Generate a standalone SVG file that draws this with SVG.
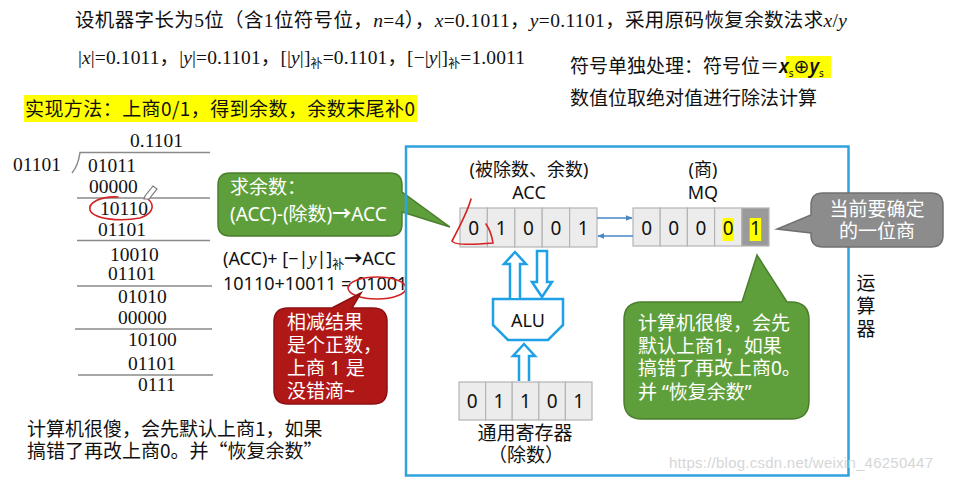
<svg xmlns="http://www.w3.org/2000/svg" width="957" height="482" viewBox="0 0 957 482">
<defs>
<style>
.serif{font-family:"Liberation Serif","Noto Sans CJK SC",serif;font-size:19.5px;fill:#111}
.cjk{font-family:"Noto Sans CJK SC",sans-serif;font-size:19px;fill:#111}
.sans{font-family:"Noto Sans","Noto Sans CJK SC",sans-serif;font-size:18px;fill:#111}
.wt{font-family:"Noto Sans","Noto Sans CJK SC",sans-serif;font-size:19px;fill:#fff}
.dig{font-family:"Liberation Serif",serif;font-size:19.5px;fill:#111}
.rule{stroke:#8a8a8a;stroke-width:1.5;fill:none}
.cell{fill:#ececec;stroke:#b5b5b5;stroke-width:1.2}
.cd{font-family:"Noto Sans",sans-serif;font-size:19px;fill:#111;text-anchor:middle}
.hol{fill:#fff;stroke:#1ea0e6;stroke-width:2.5;stroke-linejoin:miter}
.red{fill:none;stroke:#d42222;stroke-width:1.6;stroke-linecap:round}
.sub{font-size:12px}
</style>
<marker id="ah" viewBox="0 0 10 10" refX="9" refY="5" markerWidth="7" markerHeight="7" orient="auto" markerUnits="userSpaceOnUse">
<path d="M0,1 L10,5 L0,9 Z" fill="#4a86c8"/>
</marker>
</defs>
<rect width="957" height="482" fill="#fff"/>

<g id="title">
<text class="serif" x="75" y="27" textLength="772">设机器字长为5位（含1位符号位，<tspan font-style="italic">n</tspan>=4），<tspan font-style="italic">x</tspan>=0.1011，<tspan font-style="italic">y</tspan>=0.1101，采用原码恢复余数法求<tspan font-style="italic">x</tspan>/<tspan font-style="italic">y</tspan></text>
<text class="serif" x="78" y="64" textLength="447">|<tspan font-style="italic">x</tspan>|=0.1011，|<tspan font-style="italic">y</tspan>|=0.1101，[|<tspan font-style="italic">y</tspan>|]<tspan class="sub" dy="4">补</tspan><tspan dy="-4">=0.1101，[−|</tspan><tspan font-style="italic">y</tspan>|]<tspan class="sub" dy="4">补</tspan><tspan dy="-4">=1.0011</tspan></text>
</g>
<g id="sign-note">
<rect x="786" y="56" width="45" height="22" fill="#ffff00"/>
<text class="cjk" x="570" y="73" font-size="19.5">符号单独处理：符号位＝<tspan font-family="Noto Sans,sans-serif" font-style="italic" font-weight="600">x</tspan><tspan font-family="Noto Sans,sans-serif" dy="4" font-size="10">s</tspan><tspan font-family="DejaVu Sans,sans-serif" dy="-4">⊕</tspan><tspan font-family="Noto Sans,sans-serif" font-style="italic" font-weight="600">y</tspan><tspan font-family="Noto Sans,sans-serif" dy="4" font-size="10">s</tspan></text>
<text class="cjk" x="570" y="105" font-size="19.5">数值位取绝对值进行除法计算</text>
</g>
<g id="method">
<rect x="24" y="95" width="393" height="27" fill="#ffff00"/>
<text class="cjk" x="25" y="116" textLength="390">实现方法：上商0/1，得到余数，余数末尾补0</text>
</g>

<g id="division">
<text class="dig" x="130" y="147">0.1101</text>
<text class="dig" x="13" y="171">01101</text>
<path class="rule" d="M72,173 Q78,166 80,152.5 L210,152.5"/>
<text class="dig" x="88" y="172">01011</text>
<text class="dig" x="89" y="193">00000</text>
<line class="rule" x1="77" y1="198" x2="210" y2="198"/>
<text class="dig" x="100" y="215">10110</text>
<text class="dig" x="98" y="236">01101</text>
<line class="rule" x1="77" y1="240.5" x2="210" y2="240.5"/>
<text class="dig" x="110" y="261">10010</text>
<text class="dig" x="108" y="280">01101</text>
<line class="rule" x1="77" y1="286" x2="212" y2="286"/>
<text class="dig" x="118" y="303">01010</text>
<text class="dig" x="118" y="324">00000</text>
<line class="rule" x1="75" y1="329" x2="212" y2="329"/>
<text class="dig" x="128" y="346">10100</text>
<text class="dig" x="128" y="370">01101</text>
<line class="rule" x1="78" y1="375" x2="213" y2="375"/>
<text class="dig" x="138" y="391">0111</text>
<path class="red" d="M118,197 C100,196 88,203 90,210 C93,219 120,222 140,218 C152,214 156,206 148,199"/>
<path d="M145,196 L153,186 L157,189 L149,199 L144,199 Z" fill="#fff" stroke="#777" stroke-width="1.2"/>
</g>

<g id="note-left">
<text class="cjk" font-size="19.5"><tspan x="27" y="436">计算机很傻，会先默认上商1，如果</tspan><tspan x="27" y="458">搞错了再改上商0。并“恢复余数”</tspan></text>
</g>

<g id="calc">
<text class="sans" x="223" y="265">(ACC)+ [−|<tspan font-family="Liberation Serif,serif" font-style="italic">y</tspan>|]<tspan class="sub" dy="4">补</tspan><tspan dy="-4" font-weight="bold">→</tspan>ACC</text>
<text class="sans" x="223" y="290">10110+10011 = 01001</text>
<ellipse class="red" cx="377" cy="288" rx="29" ry="11"/>
</g>

<g id="callout-remainder">
<path d="M230,173 H390 Q402,173 402,185 V192 L450,227 L402,212 V224 Q402,236 390,236 H230 Q218,236 218,224 V185 Q218,173 230,173 Z" fill="#5f9f3b" stroke="#4b7e2d" stroke-width="1.5"/>
<text class="wt"><tspan x="230" y="194">求余数：</tspan><tspan x="230" y="221">(ACC)-(除数)<tspan font-weight="bold">→</tspan>ACC</tspan></text>
</g>
<g id="callout-positive">
<path d="M288,308 H332 L361,293 L352,308 H373 Q387,308 387,322 V390 Q387,404 373,404 H288 Q274,404 274,390 V322 Q274,308 288,308 Z" fill="#b01818" stroke="#8a1010" stroke-width="1.5"/>
<text class="wt" font-size="19.5"><tspan x="287" y="329">相减结果</tspan><tspan x="287" y="352">是个正数，</tspan><tspan x="287" y="375">上商 1 是</tspan><tspan x="287" y="398">没错滴~</tspan></text>
</g>

<g id="alu-frame">
<rect x="406" y="146.5" width="442.5" height="329" fill="none" stroke="#30a2de" stroke-width="2.5"/>
<text class="cjk" text-anchor="middle"><tspan x="866" y="290">运</tspan><tspan x="866" y="313">算</tspan><tspan x="866" y="336">器</tspan></text>
</g>

<g id="acc">
<text class="sans" text-anchor="middle"><tspan x="529" y="176">(被除数、余数)</tspan><tspan x="529" y="199">ACC</tspan></text>
<rect class="cell" x="460" y="208" width="27.4" height="39"/>
<rect class="cell" x="487.4" y="208" width="27.4" height="39"/>
<rect class="cell" x="514.8" y="208" width="27.4" height="39"/>
<rect class="cell" x="542.2" y="208" width="27.4" height="39"/>
<rect class="cell" x="569.6" y="208" width="27.4" height="39"/>
<text class="cd" x="473.7" y="235">0</text>
<text class="cd" x="501.1" y="235">1</text>
<text class="cd" x="528.5" y="235">0</text>
<text class="cd" x="555.9" y="235">0</text>
<text class="cd" x="583.3" y="235">1</text>
<path class="red" d="M471,199 C468,210 460,226 452,241 C454,245 470,245 493,243 C492,236 490,230 486,224"/>
</g>

<g id="mq">
<text class="sans" text-anchor="middle"><tspan x="703" y="176">(商)</tspan><tspan x="703" y="199">MQ</tspan></text>
<rect class="cell" x="633" y="208" width="27.2" height="38"/>
<rect class="cell" x="660.2" y="208" width="27.2" height="38"/>
<rect class="cell" x="687.4" y="208" width="27.2" height="38"/>
<rect class="cell" x="714.6" y="208" width="27.2" height="38"/>
<rect x="741.8" y="208" width="27.2" height="38" fill="#9a9a9a" stroke="#b5b5b5" stroke-width="1.2"/>
<rect x="722.5" y="218" width="11.5" height="23" fill="#ffff00"/>
<rect x="749.7" y="218" width="11.5" height="23" fill="#ffff00"/>
<text class="cd" x="646.6" y="235">0</text>
<text class="cd" x="673.8" y="235">0</text>
<text class="cd" x="701" y="235">0</text>
<text class="cd" x="728.2" y="235">0</text>
<text class="cd" x="755.4" y="235">1</text>
</g>

<g id="alu">
<path class="hol" d="M493,299 L563,299 L563,325 L548,340 L508,340 L493,325 Z"/>
<text class="sans" x="528" y="327" text-anchor="middle">ALU</text>
</g>

<g id="register">
<rect class="cell" x="459" y="382" width="26.6" height="38"/>
<rect class="cell" x="485.6" y="382" width="26.6" height="38"/>
<rect class="cell" x="512.2" y="382" width="26.6" height="38"/>
<rect class="cell" x="538.8" y="382" width="26.6" height="38"/>
<rect class="cell" x="565.4" y="382" width="26.6" height="38"/>
<text class="cd" x="472.3" y="408">0</text>
<text class="cd" x="498.9" y="408">1</text>
<text class="cd" x="525.5" y="408">1</text>
<text class="cd" x="552.1" y="408">0</text>
<text class="cd" x="578.7" y="408">1</text>
<text class="cjk" text-anchor="middle" font-size="19.5"><tspan x="525" y="440">通用寄存器</tspan><tspan x="526" y="462">（除数）</tspan></text>
</g>

<g id="callout-current">
<path d="M823,193 H931 Q943,193 943,205 V235 Q943,247 931,247 H823 Q811,247 811,235 V233 L777,229 L811,215 V205 Q811,193 823,193 Z" fill="#8c8c8c" stroke="#707070" stroke-width="1.5"/>
<text class="wt" text-anchor="middle"><tspan x="877" y="216">当前要确定</tspan><tspan x="877" y="238">的一位商</tspan></text>
</g>

<g id="callout-default">
<path d="M642,302 H742 L757,255 L787,302 H791 Q809,302 809,320 V401 Q809,419 791,419 H642 Q624,419 624,401 V320 Q624,302 642,302 Z" fill="#5f9f3b" stroke="#4b7e2d" stroke-width="1.5"/>
<text class="wt"><tspan x="638" y="330">计算机很傻，会先</tspan><tspan x="638" y="353">默认上商1，如果</tspan><tspan x="638" y="375">搞错了再改上商0。</tspan><tspan x="638" y="399">并 “恢复余数”</tspan></text>
</g>

<g id="connectors">
<line x1="597" y1="218" x2="632" y2="218" stroke="#4a86c8" stroke-width="1.5" marker-end="url(#ah)"/>
<line x1="633" y1="236" x2="598" y2="236" stroke="#4a86c8" stroke-width="1.5" marker-end="url(#ah)"/>
<path class="hol" d="M510,298 L510,264 L504,264 L515,252 L526,264 L520,264 L520,298"/>
<path class="hol" d="M537,251 L547,251 L547,282 L552,282 L542,297 L532,282 L537,282 Z"/>
<path class="hol" d="M519,381 L519,356 L513,356 L524,344 L535,356 L529,356 L529,381"/>
</g>

<text x="669" y="468" font-family="Liberation Sans,Arial,sans-serif" font-size="15" fill="#d6d6d6" textLength="264">https://blog.csdn.net/weixin_46250447</text>
</svg>
